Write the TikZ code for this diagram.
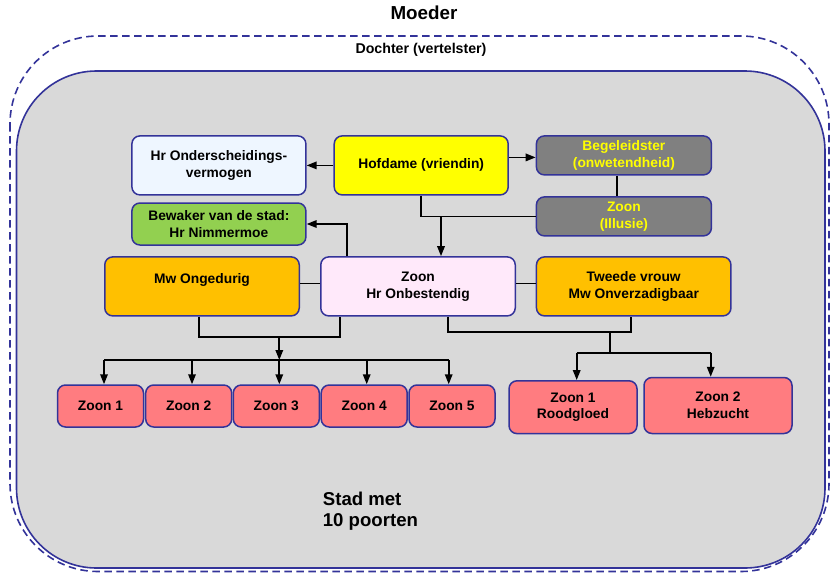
\documentclass[tikz,border=0pt]{standalone}
\usepackage{fontspec}
\setmainfont{Liberation Sans}
\usetikzlibrary{arrows.meta}

\definecolor{randblauw}{HTML}{333399}
\definecolor{stadgrijs}{HTML}{D9D9D9}
\definecolor{lichtblauw}{HTML}{EEF6FF}
\definecolor{geel}{HTML}{FFFF00}
\definecolor{donkergrijs}{HTML}{808080}
\definecolor{groen}{HTML}{92D050}
\definecolor{oranje}{HTML}{FFC000}
\definecolor{lichtroze}{HTML}{FFE9FA}
\definecolor{zalm}{HTML}{FF7C80}

\tikzset{
  doos/.style={draw=randblauw, line width=1.5pt, rounded corners=8pt, align=center,
    inner sep=2pt, font=\fontsize{13.8}{16.7}\selectfont\bfseries},
  lijn/.style={line width=1.7pt, draw=black},
  pijl/.style={line width=1.7pt, draw=black, -{Triangle[length=10pt,width=7.5pt]}}
}

\begin{document}
\begin{tikzpicture}[x=1pt, y=-1pt]
    \useasboundingbox (0,0) rectangle (830,574);
    %% buitenste vormen: moeder (gestreept) en de stad
    \draw[randblauw, line width=1.6pt, dash pattern=on 7.5pt off 4.5pt, rounded corners=88pt]
    (10,36) rectangle (829,571.5);
    \draw[randblauw, fill=stadgrijs, line width=1.6pt, rounded corners=80pt]
    (16.5,71) rectangle (825,568);
    
    \node[font=\fontsize{18.8}{22}\selectfont\bfseries] (moeder) at (424,12.5) {Moeder};
    \node[font=\fontsize{14.2}{17}\selectfont\bfseries] (dochter) at (421,50) {Dochter (vertelster)};
    \node[anchor=north west, inner sep=0pt, align=left, font=\fontsize{18.6}{21.7}\selectfont\bfseries]
    (stad) at (322.7,491.5) {Stad met\\10 poorten};
    
    %% bovenste rij
    \node[doos, fill=lichtblauw, minimum width=174, minimum height=59] (hrond) at (218.9,165.4)
    {Hr Onderscheidings-\\vermogen};
    \node[doos, fill=geel, minimum width=174, minimum height=59] (hof) at (421.2,165.4)
    {Hofdame (vriendin)};
    \node[doos, fill=donkergrijs, text=geel, minimum width=175, minimum height=39] (beg) at (623.9,155.4)
    {Begeleidster\\(onwetendheid)};
    \node[doos, fill=donkergrijs, text=geel, minimum width=175, minimum height=39] (illusie) at (623.9,216.4)
    {Zoon\\(Illusie)};
    \node[doos, fill=groen, minimum width=174, minimum height=42] (bewaker) at (218.9,224)
    {Bewaker van de stad:\\Hr Nimmermoe};
    
    %% middelste rij
    \node[doos, fill=oranje, minimum width=194.5, minimum height=59] (ong) at (202,286.4)
    {Mw Ongedurig\\\mbox{}};
    \node[doos, fill=lichtroze, minimum width=194.5, minimum height=59] (zoon) at (418,286.4)
    {Zoon\\Hr Onbestendig};
    \node[doos, fill=oranje, minimum width=194.5, minimum height=59] (twee) at (633.7,286.4)
    {Tweede vrouw\\Mw Onverzadigbaar};
    
    %% zonen van de tweede vrouw
    \node[doos, fill=zalm, minimum width=128, minimum height=52.8] (rood) at (573,407.2)
    {Zoon 1\\Roodgloed};
    \node[doos, fill=zalm, minimum width=148, minimum height=56] (heb) at (718,405.5)
    {Zoon 2\\Hebzucht};
    
    %% verbindingen
    \coordinate (hofzoon) at (441,216.4);
    \coordinate (bewpt) at (347,224);
    \coordinate (ljoin) at (340,337);
    \coordinate (lbus) at (279.3,360);
    \coordinate (zr) at (448.3,332);
    \coordinate (rjoin) at (631,332);
    \coordinate (rbus) at (610,352.7);
    \coordinate (ra) at (576.7,352.7);
    \coordinate (rb) at (710.7,352.7);
    
    \draw[pijl] (hof.west) -- (hrond.east);
    \draw[pijl] ([yshift=-2pt]beg.west -| hof.east) -- ([yshift=-2pt]beg.west);
    \draw[lijn] ([xshift=-7pt]beg.south) -- ([xshift=-7pt]illusie.north);
    \draw[lijn] (hof.south) |- (illusie.west);
    \draw[pijl] (hofzoon) -- (hofzoon |- zoon.north);
    \draw[pijl] (bewpt |- zoon.north) |- (bewaker.east);
    \draw[lijn] ([yshift=3pt]ong.east) -- ([yshift=3pt]zoon.west);
    \draw[lijn] ([yshift=3pt]zoon.east) -- ([yshift=3pt]twee.west);
    
    \draw[lijn] ([xshift=-3pt]ong.south) |- (ljoin) -- (ljoin |- zoon.south);
    \draw[pijl] (lbus |- ljoin) -- (lbus);
    
    \draw[lijn] (zr |- zoon.south) -- (zr) -- (rjoin) -- (rjoin |- twee.south);
    \draw[lijn] (rbus |- rjoin) -- (rbus);
    \draw[lijn] (ra) -- (rb);
    \draw[pijl] (ra) -- (ra |- rood.north);
    \draw[pijl] (rb) -- (rb |- heb.north);
    
    %% zonen 1 t/m 5
    \foreach \n/\x/\ax in 
    {1/100.5/104,
        2/188.7/192,
        3/276.3/279.3,
        4/364.2/366.7,
        5/452/448.7
    }
    {
        \node[doos, fill=zalm, minimum width=86, minimum height=42] (z\n) at (\x,406) {Zoon \n};
        \coordinate (za\n) at (\ax,360);
        \draw[pijl] (za\n) -- (za\n |- z\n.north);
    };
    \draw[lijn] (za1) -- (za5);
\end{tikzpicture}
\end{document}
